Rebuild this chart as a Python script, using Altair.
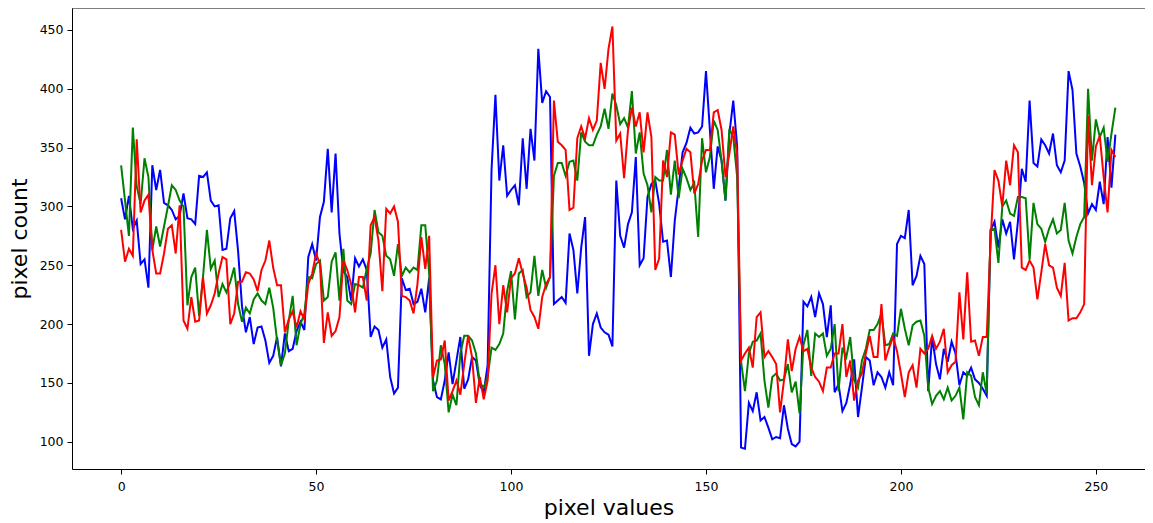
import altair as alt
import pandas as pd

blue = [307, 289, 309, 281, 288, 251, 255, 231, 335, 314,
        331, 303, 301, 297, 289, 292, 311, 290, 289, 285,
        326, 325, 329, 305, 300, 301, 263, 264, 290, 296,
        262, 215, 193, 206, 183, 197, 198, 186, 167, 173,
        189, 164, 192, 177, 179, 194, 202, 195, 257, 268,
        254, 291, 304, 349, 295, 345, 277, 245, 240, 220,
        256, 249, 255, 246, 189, 198, 195, 180, 187, 155,
        141, 146, 239, 229, 230, 217, 219, 230, 210, 239,
        152, 138, 136, 152, 176, 149, 169, 189, 145, 153,
        172, 169, 148, 142, 165, 331, 395, 322, 352, 309,
        314, 318, 301, 358, 315, 366, 339, 434, 388, 398,
        393, 217, 220, 223, 218, 277, 263, 226, 265, 291,
        173, 200, 209, 197, 193, 191, 181, 322, 275, 265,
        285, 295, 342, 250, 256, 308, 319, 322, 302, 270,
        271, 240, 288, 316, 346, 354, 367, 362, 363, 368,
        415, 365, 315, 351, 339, 305, 362, 390, 351, 95,
        94, 133, 126, 142, 118, 121, 112, 102, 104, 103,
        131, 111, 98, 96, 100, 219, 215, 223, 206, 226,
        217, 189, 216, 142, 149, 126, 133, 149, 170, 121,
        146, 172, 169, 148, 159, 155, 146, 159, 148, 268,
        275, 273, 297, 233, 241, 258, 251, 143, 189, 166,
        153, 179, 168, 185, 175, 148, 159, 156, 163, 153,
        150, 145, 139, 280, 287, 265, 289, 277, 287, 255,
        287, 332, 321, 390, 337, 334, 357, 352, 345, 362,
        335, 329, 339, 415, 399, 345, 334, 320, 294, 302,
        297, 321, 302, 359, 316, 361]

green = [335, 305, 275, 367, 317, 302, 341, 325, 263, 283,
         266, 283, 300, 318, 314, 305, 300, 216, 240, 248,
         207, 240, 280, 247, 254, 223, 234, 227, 236, 248,
         217, 202, 214, 209, 221, 226, 220, 217, 231, 214,
         186, 165, 175, 203, 224, 182, 200, 209, 240, 239,
         251, 254, 220, 223, 253, 261, 220, 264, 220, 217,
         234, 233, 231, 247, 260, 297, 278, 275, 258, 255,
         241, 268, 241, 248, 244, 248, 246, 284, 284, 243,
         143, 152, 182, 166, 125, 140, 131, 175, 190, 190,
         186, 175, 150, 146, 155, 180, 178, 183, 192, 228,
         245, 204, 243, 246, 223, 227, 258, 224, 246, 231,
         240, 326, 337, 337, 326, 338, 339, 322, 363, 355,
         352, 352, 361, 368, 383, 366, 396, 386, 370, 375,
         367, 398, 345, 363, 328, 318, 295, 325, 322, 322,
         348, 310, 339, 307, 332, 324, 314, 320, 274, 358,
         329, 342, 373, 365, 339, 305, 366, 359, 325, 168,
         143, 175, 185, 186, 192, 152, 129, 155, 158, 152,
         153, 166, 142, 151, 124, 182, 195, 156, 192, 189,
         192, 173, 179, 200, 143, 180, 172, 189, 152, 146,
         169, 179, 195, 195, 200, 209, 182, 183, 192, 190,
         213, 196, 182, 199, 202, 203, 190, 146, 132, 139,
         143, 136, 146, 135, 139, 146, 119, 159, 156, 138,
         131, 159, 141, 280, 281, 252, 300, 305, 294, 292,
         308, 308, 307, 255, 303, 285, 281, 270, 281, 289,
         277, 280, 303, 271, 260, 274, 285, 291, 400, 339,
         374, 359, 367, 338, 362, 384]

red = [280, 253, 264, 258, 357, 295, 305, 310, 263, 243,
       243, 260, 281, 284, 260, 301, 203, 196, 223, 202,
       203, 240, 209, 216, 226, 243, 257, 255, 200, 209,
       236, 236, 244, 243, 238, 228, 246, 254, 271, 248,
       233, 233, 193, 204, 211, 197, 211, 204, 234, 243,
       260, 251, 184, 210, 190, 194, 206, 254, 246, 234,
       210, 240, 240, 220, 284, 291, 271, 228, 298, 294,
       300, 287, 224, 223, 220, 209, 234, 274, 247, 275,
       155, 169, 170, 186, 135, 143, 152, 140, 166, 190,
       172, 133, 155, 136, 152, 226, 250, 200, 233, 210,
       239, 243, 256, 243, 231, 212, 206, 196, 223, 234,
       240, 390, 355, 352, 348, 297, 299, 358, 368, 358,
       375, 365, 373, 422, 400, 434, 453, 356, 362, 324,
       365, 384, 368, 380, 346, 380, 359, 246, 256, 339,
       325, 363, 361, 327, 339, 349, 346, 311, 319, 339,
       348, 348, 380, 382, 365, 325, 345, 368, 344, 169,
       175, 180, 163, 206, 210, 172, 177, 172, 166, 125,
       152, 187, 160, 179, 189, 177, 179, 163, 155, 151,
       143, 163, 163, 175, 175, 200, 155, 169, 135, 152,
       158, 175, 190, 172, 172, 217, 169, 180, 189, 177,
       158, 138, 159, 165, 146, 179, 175, 179, 190, 179,
       185, 196, 159, 165, 168, 227, 187, 244, 185, 186,
       173, 189, 189, 271, 331, 322, 300, 339, 318, 352,
       346, 248, 246, 254, 248, 221, 244, 268, 250, 248,
       231, 224, 252, 203, 205, 205, 210, 217, 377, 318,
       351, 360, 325, 295, 348, 342]

x_ticks = [0, 50, 100, 150, 200, 250]
y_ticks = [100, 150, 200, 250, 300, 350, 400, 450]

W, H = 1073, 461
FONT = "DejaVu Sans"

x_enc = alt.X("pixel:Q",
              scale=alt.Scale(domain=[-12.6, 262.6], nice=False, zero=False),
              axis=alt.Axis(values=x_ticks, title="pixel values", grid=False,
                            tickSize=5, labelPadding=6, titlePadding=5,
                            labelFontSize=12.5, titleFontSize=22,
                            titleFontWeight="normal", labelFont=FONT, titleFont=FONT,
                            domainColor="black", tickColor="black",
                            labelColor="black", titleColor="black"))
y_enc = alt.Y("count:Q",
              scale=alt.Scale(domain=[76.8, 468.7], nice=False, zero=False),
              axis=alt.Axis(values=y_ticks, title="pixel count", grid=False,
                            tickSize=5, labelPadding=4, titlePadding=8,
                            labelFontSize=12.5, titleFontSize=22,
                            titleFontWeight="normal", labelFont=FONT, titleFont=FONT,
                            domainColor="black", tickColor="black",
                            labelColor="black", titleColor="black"))

layers = []
for vals, col in [(blue, "#0000ff"), (green, "#008000"), (red, "#ff0000")]:
    df = pd.DataFrame({"pixel": list(range(len(vals))), "count": vals})
    layers.append(
        alt.Chart(df).mark_line(color=col, strokeWidth=2, clip=True).encode(x=x_enc, y=y_enc)
    )

top_spine = alt.Chart(pd.DataFrame({"a": [0]})).mark_rule(color="black", strokeWidth=1).encode(
    x=alt.value(0), x2=alt.value(W), y=alt.value(0)
)

chart = alt.layer(*layers, top_spine).properties(
    width=W, height=H,
    autosize=alt.AutoSizeParams(type="none"),
    padding={"left": 64, "top": 0, "right": 0, "bottom": 54},
    background="white",
).configure_view(stroke=None)

chart.save("out.html", embed_options={"renderer": "svg", "actions": False})
